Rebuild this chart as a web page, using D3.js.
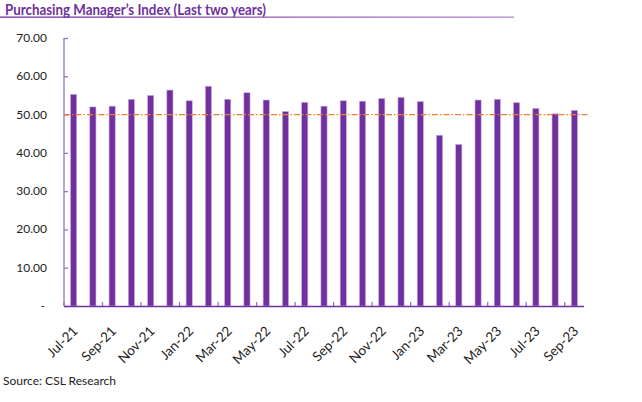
<!DOCTYPE html>
<html><head><meta charset="utf-8">
<script src="https://cdn.jsdelivr.net/npm/d3@7/dist/d3.min.js"></script>
<style>body{margin:0;background:#fff}svg{display:block}</style>
</head><body>
<script>
const months = ["Jul-21","Aug-21","Sep-21","Oct-21","Nov-21","Dec-21","Jan-22","Feb-22","Mar-22","Apr-22","May-22","Jun-22","Jul-22","Aug-22","Sep-22","Oct-22","Nov-22","Dec-22","Jan-23","Feb-23","Mar-23","Apr-23","May-23","Jun-23","Jul-23","Aug-23","Sep-23"];
const pmi = [55.3,52.0,52.2,54.0,55.0,56.4,53.6,57.4,54.0,55.7,53.8,50.8,53.2,52.2,53.6,53.5,54.2,54.5,53.4,44.6,42.2,53.8,54.0,53.1,51.6,50.2,51.1];
const yTicks = [0,10,20,30,40,50,60,70];
const threshold = 50;
const title = "Purchasing Manager\u2019s Index (Last two years)";
const source = "Source: CSL Research";

const W=642,H=402;
const svg=d3.select("body").append("svg").attr("width",W).attr("height",H);
const font="Lato, 'Open Sans', sans-serif";
const purple="#7030A0";

// title
const defs=svg.append("defs");
const g1=defs.append("linearGradient").attr("id","tg").attr("x1","0").attr("x2","1");
g1.append("stop").attr("offset","0").attr("stop-color","#7030A0");
g1.append("stop").attr("offset","1").attr("stop-color","#b08ad0");
svg.append("text").attr("x",5).attr("y",15).attr("font-family",font).attr("font-weight","bold")
  .attr("font-size",16).attr("fill",purple)
  .attr("textLength",261).attr("lengthAdjust","spacingAndGlyphs").text(title);
svg.append("rect").attr("x",0).attr("y",16.5).attr("width",514).attr("height",1.3).attr("fill","url(#tg)");

const x=d3.scaleBand().domain(months).range([64,584]).paddingInner(0.68).paddingOuter(0.34);
const y=d3.scaleLinear().domain([0,70]).range([306,38]);

// y axis
const ya=svg.append("g").attr("transform","translate(64,0)")
  .call(d3.axisRight(y).tickValues(yTicks).tickSize(4).tickFormat(""));
ya.select(".domain").attr("stroke","#9b6fc4").attr("stroke-width",1.3).attr("d","M0,38V306");
ya.selectAll(".tick line").attr("stroke","#9b6fc4").attr("stroke-width",1.3);
svg.append("g").selectAll("text").data(yTicks).join("text")
  .attr("x",d=>d===0?45:47).attr("y",d=>y(d)+4).attr("text-anchor","end")
  .attr("font-family",font).attr("font-size",12).attr("fill","#222")
  .text(d=>d===0?"-":d3.format(".2f")(d));

// bars
svg.append("g").selectAll("rect").data(months).join("rect")
  .attr("x",d=>x(d)).attr("width",x.bandwidth())
  .attr("y",(d,i)=>y(pmi[i])).attr("height",(d,i)=>y(0)-y(pmi[i]))
  .attr("fill",purple).attr("stroke","#c7aee0").attr("stroke-width",0.6);

// x axis
const step=x.step();
const boundaries=d3.range(0,months.length+1,2);
svg.append("g").selectAll("line").data(boundaries).join("line")
  .attr("x1",d=>64+d*step).attr("x2",d=>64+d*step).attr("y1",306).attr("y2",302)
  .attr("stroke","#9b6fc4").attr("stroke-width",1.3);
svg.append("line").attr("x1",64).attr("x2",584).attr("y1",306.5).attr("y2",306.5)
  .attr("stroke",purple).attr("stroke-width",1.5);

// threshold line
svg.append("line").attr("x1",64).attr("x2",588).attr("y1",y(threshold)).attr("y2",y(threshold))
  .attr("stroke","#ED7D31").attr("stroke-width",1.2).attr("stroke-dasharray","6,2,1.5,2");

// x labels
svg.append("g").selectAll("text").data(months.filter((d,i)=>i%2===0)).join("text")
  .attr("transform",d=>`translate(${x(d)+x.bandwidth()/2+5},${332}) rotate(-45)`)
  .attr("text-anchor","end").attr("font-family",font).attr("font-size",13.5).attr("fill","#222")
  .text(d=>d);

svg.append("text").attr("x",3).attr("y",385).attr("font-family",font).attr("font-size",12)
  .attr("fill","#222").text(source);
</script>
</body></html>
